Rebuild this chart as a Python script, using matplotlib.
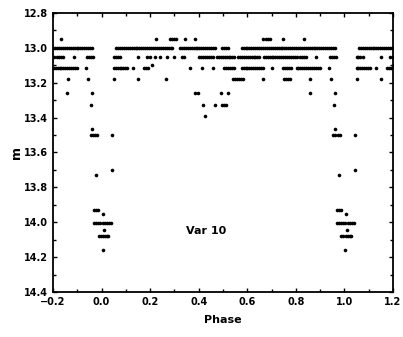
import matplotlib.pyplot as plt
from matplotlib.ticker import MultipleLocator

# light curve of Var 10, phases folded to 0..1
phase_1295 = [0.223, 0.282, 0.29, 0.298, 0.305, 0.343, 0.385, 0.666, 0.676, 0.686,
              0.695, 0.748, 0.832]
phase_1300 = [0.06, 0.068, 0.076, 0.084, 0.092, 0.1, 0.108, 0.116, 0.124, 0.132,
              0.14, 0.148, 0.156, 0.164, 0.172, 0.18, 0.188, 0.196, 0.204, 0.212,
              0.22, 0.228, 0.236, 0.244, 0.252, 0.26, 0.268, 0.276, 0.284, 0.289,
              0.323, 0.331, 0.339, 0.347, 0.355, 0.363, 0.371, 0.379, 0.387, 0.395,
              0.403, 0.411, 0.419, 0.427, 0.435, 0.443, 0.451, 0.459, 0.467,
              0.495, 0.503, 0.512, 0.52,
              0.577, 0.585, 0.593, 0.601, 0.609, 0.617, 0.625, 0.633, 0.641, 0.649,
              0.657, 0.665, 0.673, 0.681, 0.689, 0.697, 0.705, 0.713, 0.721, 0.729,
              0.737, 0.745, 0.753, 0.761, 0.769, 0.777, 0.785, 0.793, 0.801, 0.809,
              0.817, 0.825, 0.833, 0.841, 0.849, 0.857, 0.865, 0.873, 0.881, 0.889,
              0.897, 0.905, 0.913, 0.921, 0.929, 0.937, 0.945, 0.953, 0.96]
phase_1305 = [0.05, 0.058, 0.066, 0.075, 0.151, 0.186, 0.199, 0.22, 0.24, 0.268,
              0.299, 0.33, 0.34, 0.402, 0.41, 0.418, 0.426, 0.434, 0.442, 0.45,
              0.458, 0.475, 0.483, 0.491, 0.499, 0.507, 0.515, 0.523, 0.531, 0.539,
              0.547, 0.562, 0.57, 0.578, 0.586, 0.594, 0.602, 0.61, 0.618, 0.626,
              0.634, 0.642, 0.65, 0.668, 0.676, 0.684, 0.692, 0.7, 0.708, 0.716,
              0.724, 0.732, 0.74, 0.748, 0.756, 0.764, 0.772, 0.78, 0.788, 0.796,
              0.804, 0.818, 0.826, 0.834, 0.842, 0.885, 0.94, 0.948, 0.956, 0.964]
phase_1311 = [0.05, 0.058, 0.066, 0.074, 0.082, 0.09, 0.098, 0.105, 0.129, 0.176,
              0.184, 0.192, 0.364, 0.412, 0.46, 0.505, 0.513, 0.521, 0.529, 0.537,
              0.545, 0.577, 0.585, 0.593, 0.601, 0.609, 0.617, 0.625, 0.633, 0.641,
              0.649, 0.657, 0.665, 0.7, 0.748, 0.756, 0.764, 0.772, 0.78, 0.803,
              0.811, 0.819, 0.827, 0.835, 0.843, 0.851, 0.859, 0.867, 0.875,
              0.883, 0.891, 0.899, 0.936]
phase_1310 = [0.206]
phase_1318 = [0.053, 0.152, 0.264, 0.542, 0.55, 0.558, 0.566, 0.574, 0.583, 0.666,
              0.752, 0.76, 0.768, 0.776, 0.86, 0.944]
phase_1326 = [0.385, 0.398, 0.49, 0.52, 0.858, 0.962]
phase_1333 = [0.419, 0.467, 0.497, 0.506, 0.513, 0.958]
phase_1339 = [0.426]
phase_1347 = [0.962]
phase_1350 = [0.045, 0.955, 0.963, 0.972, 0.98]
phase_1370 = [0.042]
phase_1373 = [0.977]
phase_1393 = [0.97, 0.978, 0.986]
phase_1395 = [0.005]
phase_1400 = [0.968, 0.977, 0.986, 0.995, 0.004, 0.013, 0.022, 0.031, 0.04]
phase_1405 = [0.01]
phase_1408 = [0.988, 0.996, 0.005, 0.014, 0.022, 0.028]
phase_1416 = [0.004]

levels = [(12.95, phase_1295), (13.0, phase_1300), (13.05, phase_1305),
          (13.115, phase_1311), (13.10, phase_1310), (13.18, phase_1318),
          (13.26, phase_1326), (13.33, phase_1333), (13.39, phase_1339),
          (13.465, phase_1347), (13.50, phase_1350), (13.70, phase_1370),
          (13.73, phase_1373), (13.93, phase_1393), (13.95, phase_1395),
          (14.005, phase_1400), (14.045, phase_1405), (14.08, phase_1408),
          (14.16, phase_1416)]

fig = plt.figure(figsize=(4.03, 3.37), dpi=100)
ax = fig.add_axes([0.1315, 0.1335, 0.8435, 0.828])

# each point is drawn three times (phase-1, phase, phase+1) like the original plot
for mag, ph in levels:
    for shift in (-1, 0, 1):
        ax.plot([p + shift for p in ph], [mag] * len(ph), 'o', color='black',
                markersize=2.6, markeredgewidth=0)

ax.set_xlim(-0.2, 1.2)
ax.set_ylim(14.4, 12.8)
ax.xaxis.set_major_locator(MultipleLocator(0.2))
ax.xaxis.set_minor_locator(MultipleLocator(0.1))
ax.yaxis.set_major_locator(MultipleLocator(0.2))
ax.yaxis.set_minor_locator(MultipleLocator(0.1))
ax.tick_params(which='both', direction='in', top=True, right=True,
               labelsize=7, width=1)
ax.tick_params(which='major', length=3)
ax.tick_params(which='minor', length=2)
for lab in ax.get_xticklabels() + ax.get_yticklabels():
    lab.set_fontweight('bold')
for sp in ax.spines.values():
    sp.set_linewidth(1.3)

ax.set_xlabel('Phase', fontsize=8, fontweight='bold', labelpad=6)
ax.set_ylabel('m', fontsize=9, fontweight='bold', labelpad=1)
ax.text(0.43, 14.05, 'Var 10', fontsize=8, fontweight='bold', ha='center', va='center')

fig.savefig('out.png', dpi=100)
